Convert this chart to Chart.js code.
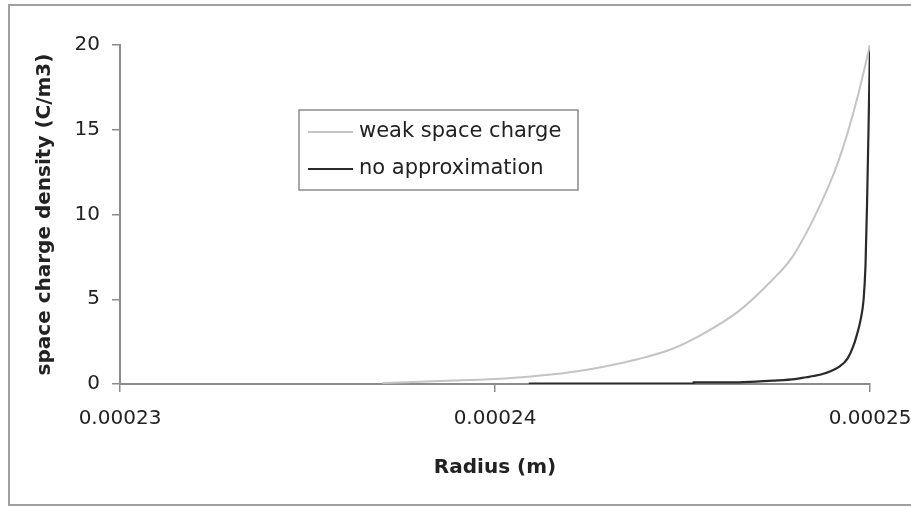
<!DOCTYPE html>
<html>
<head>
<meta charset="utf-8">
<script src="https://cdn.jsdelivr.net/npm/chart.js@4.4.0/dist/chart.umd.min.js"></script>
<style>
  html, body { margin: 0; padding: 0; background: #fff; overflow: hidden; }
  #wrap { width: 940px; height: 507px; }
</style>
</head>
<body>
<div id="wrap"><canvas id="rhoChart" width="940" height="507"></canvas></div>
<script>
// radius (m) and space charge density (C/m3)
const weakRadius = [0.0002370, 0.0002389, 0.0002400, 0.0002409, 0.0002420, 0.0002429, 0.0002438,
	0.0002447, 0.0002455, 0.0002465, 0.0002474, 0.0002479, 0.0002483, 0.0002487, 0.0002491,
	0.0002494, 0.0002497, 0.0002500];
const weakDensity = [0.06, 0.2, 0.3, 0.43, 0.69, 1.02, 1.46, 2.05, 2.9, 4.3, 6.15, 7.4, 8.9,
	10.7, 12.8, 14.8, 17.2, 20];

const exactRadius = [0.0002409, 0.0002453, 0.0002453, 0.0002465, 0.0002474, 0.0002480, 0.0002483,
	0.0002485, 0.0002488, 0.0002492, 0.0002494, 0.00024955, 0.00024965, 0.00024975, 0.00024983,
	0.00024988, 0.00024992, 0.00024996, 0.0002500];
const exactDensity = [0.02, 0.02, 0.1, 0.1, 0.2, 0.29, 0.4, 0.47, 0.63, 1.05, 1.5, 2.2, 2.9,
	3.8, 5.0, 7.0, 10.5, 15, 20];

const seriesNames = ['weak space charge', 'no approximation'];
const xTickValues = [0.00023, 0.00024, 0.00025];
const xTickLabels = ['0.00023', '0.00024', '0.00025'];
const yTickValues = [0, 5, 10, 15, 20];

const toPoints = (xs, ys) => xs.map((x, i) => ({x: x, y: ys[i]}));

const tickFont = {family: 'DejaVu Sans', size: 20};
const titleFont = {family: 'DejaVu Sans', size: 20, weight: 'bold'};

// white background + grey frame around the whole chart
const frame = {
	id: 'frame',
	beforeDraw(chart) {
		const c = chart.ctx;
		c.save();
		c.fillStyle = '#fff';
		c.fillRect(0, 0, chart.width, chart.height);
		c.strokeStyle = '#a0a0a0';
		c.lineWidth = 2;
		c.strokeRect(9, 5, 916, 500);
		c.restore();
	}
};

// boxed legend sitting inside the plot
const boxLegend = {
	id: 'boxLegend',
	afterDraw(chart) {
		const c = chart.ctx;
		c.save();
		c.strokeStyle = '#8a8a8a';
		c.lineWidth = 1.5;
		c.strokeRect(299, 110, 279, 80);
		c.font = '21px "DejaVu Sans"';
		c.textBaseline = 'middle';
		c.fillStyle = '#222';
		chart.data.datasets.forEach((ds, i) => {
			const y = 132 + i * 37;
			c.strokeStyle = ds.borderColor;
			c.lineWidth = ds.borderWidth;
			c.beginPath();
			c.moveTo(308, y);
			c.lineTo(353, y);
			c.stroke();
			c.fillText(ds.label, 359, y);
		});
		c.restore();
	}
};

const ctx = document.getElementById('rhoChart').getContext('2d');

new Chart(ctx, {
	type: 'line',
	data: {
		datasets: [
			{
				label: seriesNames[0],
				data: toPoints(weakRadius, weakDensity),
				borderColor: '#c4c4c4',
				borderWidth: 2,
				pointRadius: 0,
				cubicInterpolationMode: 'monotone'
			},
			{
				label: seriesNames[1],
				data: toPoints(exactRadius, exactDensity),
				borderColor: '#2a2a2a',
				borderWidth: 2.2,
				pointRadius: 0,
				cubicInterpolationMode: 'monotone'
			}
		]
	},
	options: {
		responsive: false,
		animation: false,
		devicePixelRatio: 1,
		layout: {padding: {top: 45, right: 70, bottom: 0, left: 0}},
		plugins: {
			legend: {display: false},
			tooltip: {enabled: false}
		},
		scales: {
			x: {
				type: 'linear',
				min: 0.00023,
				max: 0.00025,
				afterBuildTicks: s => { s.ticks = xTickValues.map(v => ({value: v})); },
				afterFit: s => { s.height = 123; },
				grid: {drawOnChartArea: false, drawTicks: true, tickLength: 8, color: '#8c8c8c', lineWidth: 1.5},
				border: {color: '#8c8c8c', width: 2},
				ticks: {
					font: tickFont,
					color: '#222',
					padding: 15,
					maxRotation: 0,
					callback: (v) => xTickLabels[xTickValues.indexOf(v)]
				},
				title: {display: true, text: 'Radius (m)', font: titleFont, color: '#222', padding: {bottom: 27}}
			},
			y: {
				min: 0,
				max: 20,
				afterBuildTicks: s => { s.ticks = yTickValues.map(v => ({value: v})); },
				afterFit: s => { s.width = 120; },
				grid: {drawOnChartArea: false, drawTicks: true, tickLength: 8, color: '#8c8c8c', lineWidth: 1.5},
				border: {color: '#8c8c8c', width: 2},
				ticks: {font: tickFont, color: '#222', padding: 12},
				title: {display: true, text: 'space charge density (C/m3)', font: titleFont, color: '#222', padding: {top: 33}}
			}
		}
	},
	plugins: [frame, boxLegend]
});
</script>
</body>
</html>
